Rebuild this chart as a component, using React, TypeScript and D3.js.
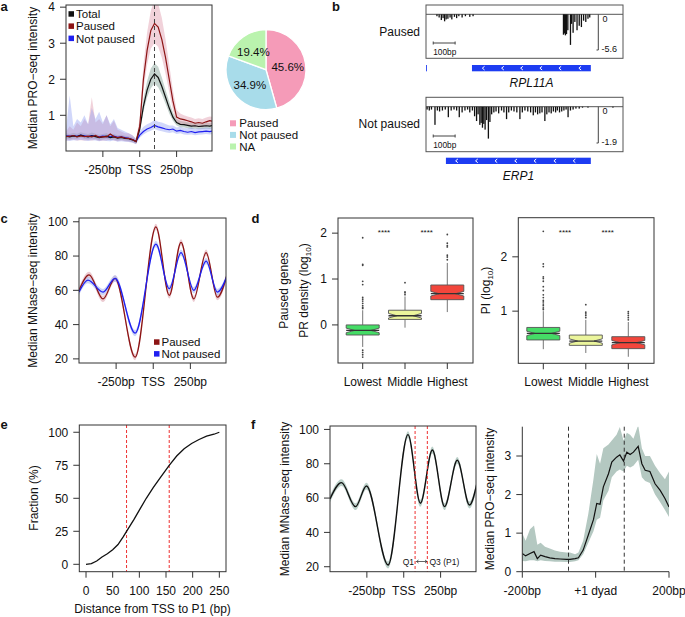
import React from "react";
import * as d3 from "d3";

const FONT = "'Liberation Sans', Arial, Helvetica, sans-serif";
const AX = "#333";
const TXT = "#111";

// ---------------- panel a ----------------
const aPos = [-500,-475,-450,-425,-400,-375,-350,-325,-300,-275,-250,-225,-200,-175,-150,-125,-100,-75,-50,-25,0,25,50,75,100,125,150,175,200,225,250,275,300,325,350,375,400,425,450,475,500];
const aTotal = [0.42,0.40,0.43,0.41,0.45,0.42,0.40,0.43,0.41,0.38,0.40,0.42,0.38,0.40,0.37,0.39,0.36,0.35,0.32,0.27,0.62,1.25,1.70,2.00,2.15,2.05,1.80,1.50,1.20,0.95,0.80,0.75,0.74,0.72,0.70,0.71,0.69,0.70,0.71,0.70,0.72];
const aTotalHi = [0.5,0.48,0.51,0.49,0.53,0.5,0.48,0.52,0.49,0.46,0.48,0.5,0.46,0.48,0.45,0.46,0.43,0.42,0.39,0.33,0.75,1.45,1.95,2.3,2.45,2.35,2.05,1.7,1.38,1.08,0.9,0.84,0.83,0.81,0.79,0.8,0.78,0.79,0.8,0.79,0.81];
const aTotalLo = [0.35,0.33,0.36,0.34,0.38,0.35,0.33,0.36,0.34,0.31,0.33,0.35,0.31,0.33,0.3,0.32,0.3,0.29,0.26,0.22,0.5,1.1,1.5,1.75,1.88,1.78,1.58,1.32,1.05,0.85,0.72,0.67,0.66,0.64,0.62,0.63,0.61,0.62,0.63,0.62,0.64];
const aPaused = [0.41,0.42,0.44,0.40,0.43,0.41,0.42,0.40,0.44,0.39,0.41,0.40,0.48,0.41,0.38,0.40,0.37,0.36,0.33,0.27,0.70,2.00,2.80,3.35,3.55,3.45,3.10,2.60,2.00,1.40,0.95,0.90,0.88,0.85,0.82,0.78,0.80,0.78,0.82,0.85,0.83];
const aPausedHi = [0.55,0.7,0.6,0.8,0.7,0.9,0.75,1.5,0.8,0.9,0.75,1.0,0.7,0.85,0.6,0.55,0.5,0.5,0.45,0.35,0.9,2.4,3.3,3.9,4.2,4.1,3.7,3.1,2.4,1.7,1.15,1.05,1.0,0.97,0.94,0.9,0.92,0.9,0.94,0.97,0.95];
const aPausedLo = [0.3,0.31,0.32,0.3,0.31,0.3,0.31,0.3,0.32,0.29,0.3,0.3,0.34,0.3,0.28,0.3,0.28,0.27,0.25,0.2,0.5,1.7,2.4,2.85,3.0,2.9,2.6,2.15,1.65,1.15,0.8,0.76,0.75,0.73,0.7,0.67,0.69,0.67,0.7,0.73,0.71];
const aNot = [0.43,0.42,0.44,0.42,0.45,0.43,0.41,0.44,0.42,0.40,0.42,0.41,0.40,0.42,0.39,0.40,0.38,0.36,0.33,0.28,0.45,0.55,0.62,0.66,0.72,0.68,0.65,0.62,0.60,0.62,0.56,0.58,0.55,0.53,0.55,0.52,0.54,0.55,0.56,0.55,0.57];
const aNotHi = [0.6,1.55,0.7,0.9,0.8,1.0,0.75,1.2,0.9,1.1,0.8,1.0,0.75,0.9,0.65,0.6,0.55,0.5,0.45,0.35,0.55,0.68,0.75,0.8,0.87,0.82,0.8,0.76,0.72,0.72,0.66,0.68,0.65,0.64,0.66,0.63,0.64,0.65,0.66,0.65,0.67];
const aNotLo = [0.3,0.29,0.31,0.3,0.32,0.3,0.29,0.31,0.3,0.28,0.3,0.29,0.28,0.3,0.27,0.28,0.27,0.26,0.24,0.2,0.38,0.47,0.53,0.57,0.62,0.58,0.56,0.53,0.51,0.53,0.48,0.5,0.47,0.46,0.47,0.45,0.46,0.47,0.48,0.47,0.49];
const aYTicks = [1, 2, 3, 4];
const tssTicks = [-250, 0, 250];
const tssLabels = ["-250bp", "TSS", "250bp"];
const aSeries = ["Total", "Paused", "Not paused"];
const aDashed = 100;

// pie
const pieLabels = ["Paused", "Not paused", "NA"];
const pieValues = [45.6, 34.9, 19.4];
const pieColors = ["#f59bb8", "#a8dcea", "#baf3ae"];

// ---------------- panel b ----------------
const bPausedPos = [50,60,70,78,85,92,100,110,118,130,140,150,165,180,200,215,628,632,637,642,648,660,665,672,680,690,700,710,720,730,740,748];
const bPausedVal = [-0.3,-0.5,-0.9,-0.6,-1.1,-0.8,-0.7,-0.5,-0.8,-0.4,-0.6,-0.3,-0.5,-0.3,-0.4,-0.3,-3.2,-3.0,-3.3,-3.1,-2.5,-4.8,-1.5,-2.9,-1.2,-2.5,-1.8,-2.0,-1.0,-1.2,-0.7,-0.5];
const bNotPos = [5,15,25,41,52,62,75,88,102,115,128,140,152,165,178,190,200,212,222,231,238,246,252,258,264,270,277,285,292,300,310,320,332,345,356,368,378,390,402,415,429,440,452,465,478,490,500,510,520,530,543,552,562,572,582,592,600,610,620,630,640,649,660,672,685,700,715,740,854];
const bNotVal = [-0.15,-0.2,-0.15,-0.95,-0.2,-0.25,-0.2,-0.15,-0.55,-0.2,-0.15,-0.2,-0.55,-0.3,-0.2,-0.15,-0.3,-0.2,-0.5,-0.75,-0.4,-0.95,-0.85,-1.1,-0.9,-1.2,-0.7,-1.67,-0.8,-0.4,-0.3,-0.25,-0.35,-0.2,-0.3,-0.65,-0.3,-0.2,-0.25,-0.3,-0.65,-0.3,-0.2,-0.25,-0.3,-0.45,-0.3,-0.4,-0.35,-0.3,-0.75,-0.4,-0.3,-0.35,-0.25,-0.3,-0.2,-0.3,-0.25,-0.2,-0.15,-0.55,-0.2,-0.15,-0.1,-0.1,-0.05,-0.05,-0.05];
const bPausedGene = [[0, 4], [210, 753]];
const bNotGene = [[91, 753]];
const bPausedChev = [262, 350, 437, 525, 612, 703];
const bNotChev = [140, 231, 320, 410, 498, 589, 677];
const bPausedMax = -5.6;
const bNotMax = -1.9;

// ---------------- panel c ----------------
const cPausedPos = [-500,-432,-338,-257,-122,18,108,187,273,356,432,500];
const cPausedVal = [60,69,55,67,21,97,57,88,55,82,56,70];
const cNotPos = [-500,-440,-338,-257,-122,18,108,187,273,356,432,500];
const cNotVal = [59,66,59,67,35,87,61,82,60,77,59,69];
const cYTicks = [20, 40, 60, 80, 100];

// ---------------- panel d ----------------
const dCats = ["Lowest", "Middle", "Highest"];
const dColors = ["#45dc66", "#ebf59c", "#f2463c"];
const dlQ1 = [-0.22, 0.12, 0.55];
const dlMed = [-0.12, 0.2, 0.68];
const dlQ3 = [0.0, 0.32, 0.87];
const dlLo = [-0.48, -0.06, 0.28];
const dlHi = [0.32, 0.62, 1.35];
const dlOut = [
  [0.36, 0.38, 0.42, 0.47, 0.52, 0.56, 0.6, 0.88, 0.95, 1.3, 1.32, 1.9, -0.55, -0.6, -0.65, -0.7],
  [0.66, 0.7, 0.72, 0.92],
  [1.42, 1.48, 1.52, 1.7, 1.73, 1.78, 1.97],
];
const drQ1 = [0.47, 0.37, 0.31];
const drMed = [0.59, 0.45, 0.42];
const drQ3 = [0.70, 0.56, 0.53];
const drLo = [0.30, 0.23, 0.16];
const drHi = [1.0, 0.84, 0.8];
const drOut = [
  [1.03, 1.06, 1.1, 1.13, 1.17, 1.2, 1.25, 1.3, 1.38, 1.45, 1.55, 1.6, 1.63, 1.82, 1.87, 2.47],
  [0.88, 0.92, 0.95, 0.98, 1.12],
  [0.84, 0.88, 0.92, 0.96, 0.99],
];

// ---------------- panel e ----------------
const ePos = [0,10,20,30,40,50,60,70,76,90,100,113,126,140,156,170,184,198,212,226,240,250];
const eVal = [0,0.5,2.5,5.5,8,11,15,21,25,34,41,50,58,66,75,82,87.5,91.5,94.5,97,98.5,100];
const eXTicks = [0, 50, 100, 150, 200, 250];
const eYTicks = [0, 25, 50, 75, 100];
const eQuartiles = [76, 156];

// ---------------- panel f ----------------
const fPos = [-500,-422,-327,-253,-106,29,113,194,277,363,446,500];
const fVal = [59.5,69,55,67,21,97,57,88,55,82,56,70];
const fQuartiles = [77, 160];
const frPos = [-200,-191,-179,-168,-159,-150,-138,-125,-111,-97,-79,-70,-56,-47,-34,-20,-6,3,12,21,35,44,57,66,76,85,94,103,116,126,135,148,162,176,189,200];
const frVal = [0.47,0.41,0.47,0.52,0.34,0.43,0.39,0.36,0.34,0.33,0.32,0.32,0.34,0.36,0.56,0.95,1.35,1.77,1.75,2.2,2.54,2.84,2.97,3.03,2.87,3.10,3.04,3.10,3.25,2.80,2.63,2.60,2.28,2.11,1.90,1.68];
const frHi = [1.0,0.8,1.1,1.2,0.7,0.75,0.65,0.6,0.55,0.52,0.5,0.5,0.45,0.5,0.8,1.5,2.4,3.05,2.8,3.2,3.3,3.4,3.55,3.75,3.4,3.6,3.55,3.45,3.8,3.2,3.0,3.0,2.75,2.55,2.4,2.6];
const frLo = [0.28,0.27,0.3,0.3,0.27,0.3,0.28,0.27,0.26,0.26,0.25,0.25,0.27,0.3,0.45,0.75,1.05,1.35,1.4,1.85,2.1,2.45,2.6,2.65,2.6,2.75,2.7,2.75,2.9,2.45,2.35,2.3,2.0,1.8,1.6,1.42];
const frTicks = [-200, 0, 200];
const frLabels = ["-200bp", "+1 dyad", "200bp"];
const frYTicks = [0, 1, 2, 3];
const frDashed = [-74, 78];

// ---------------- helpers ----------------
function linePath(xs, ys, sx, sy, curve = d3.curveLinear) {
  return d3.line().x((_, i) => sx(xs[i])).y((d) => sy(d)).curve(curve)(ys);
}
function areaPath(xs, lo, hi, sx, sy, curve = d3.curveLinear) {
  return d3.area().x((_, i) => sx(xs[i])).y0((_, i) => sy(lo[i])).y1((d) => sy(d)).curve(curve)(hi);
}
function bandPath(xs, ys, half, sx, sy, curve) {
  return d3.area().x((_, i) => sx(xs[i])).y0((d) => sy(d - half)).y1((d) => sy(d + half)).curve(curve)(ys);
}

function YAxis({ scale, ticks, x, labels }) {
  return (
    <g>
      {ticks.map((t, i) => (
        <g key={i}>
          <line x1={x} x2={x - 6} y1={scale(t)} y2={scale(t)} stroke={AX} />
          <text x={x - 11} y={scale(t) + 4.3} textAnchor="end" fontSize={12} fill={TXT}>
            {labels ? labels[i] : t}
          </text>
        </g>
      ))}
    </g>
  );
}
function XAxis({ scale, ticks, y, labels }) {
  return (
    <g>
      {ticks.map((t, i) => (
        <g key={i}>
          <line x1={scale(t)} x2={scale(t)} y1={y} y2={y + 6} stroke={AX} />
          <text x={scale(t)} y={y + 23} textAnchor="middle" fontSize={12} fill={TXT}>
            {labels ? labels[i] : t}
          </text>
        </g>
      ))}
    </g>
  );
}
function YTitle({ x, y, children, size = 12 }) {
  return (
    <text transform={`translate(${x},${y}) rotate(-90)`} textAnchor="middle" fontSize={size} fill={TXT}>
      {children}
    </text>
  );
}
function PanelLabel({ x, y, t }) {
  return (
    <text x={x} y={y} fontSize={13} fontWeight="bold" fill={TXT}>
      {t}
    </text>
  );
}

function BoxPlots({ sx, sy, q1, med, q3, lo, hi, out, notch }) {
  const w = 33;
  return (
    <g>
      {dCats.map((c, i) => {
        const cx = sx(c);
        const L = cx - w / 2, R = cx + w / 2, nl = cx - w / 4, nr = cx + w / 4;
        const pts = [
          [L, sy(q1[i])], [L, sy(med[i] - notch)], [nl, sy(med[i])], [L, sy(med[i] + notch)], [L, sy(q3[i])],
          [R, sy(q3[i])], [R, sy(med[i] + notch)], [nr, sy(med[i])], [R, sy(med[i] - notch)], [R, sy(q1[i])],
        ];
        return (
          <g key={c}>
            <line x1={cx} x2={cx} y1={sy(q3[i])} y2={sy(hi[i])} stroke="#666" strokeWidth={0.9} />
            <line x1={cx} x2={cx} y1={sy(q1[i])} y2={sy(lo[i])} stroke="#666" strokeWidth={0.9} />
            <polygon points={pts.map((p) => p.join(",")).join(" ")} fill={dColors[i]} stroke="#555" strokeWidth={0.9} />
            <line x1={L} x2={R} y1={sy(med[i])} y2={sy(med[i])} stroke="#333" strokeWidth={1.3} />
            {out[i].map((o, j) => (
              <circle key={j} cx={cx} cy={sy(o)} r={0.9} fill="#444" />
            ))}
          </g>
        );
      })}
    </g>
  );
}

export default function App() {
  // ---- a
  const aX = d3.scaleLinear().domain([-500, 490]).range([66, 212]);
  const aY = d3.scaleLinear().domain([0.01, 4.06]).range([151, 5]);
  const pie = d3.pie().sort(null)(pieValues);
  const arc = d3.arc().innerRadius(0).outerRadius(40);
  const lblArc = d3.arc().innerRadius(22).outerRadius(22);

  // ---- b
  const bX = d3.scaleLinear().domain([0, 900]).range([426, 623]);
  const bPY = d3.scaleLinear().domain([0, bPausedMax]).range([14.3, 50]);
  const bNY = d3.scaleLinear().domain([0, bNotMax]).range([106.7, 143]);

  // ---- c
  const cX = d3.scaleLinear().domain([-500, 490]).range([79, 226]);
  const cY = d3.scaleLinear().domain([17.6, 102.2]).range([363, 218]);

  // ---- d
  const dlX = d3.scalePoint().domain(dCats).range([362.7, 447.3]);
  const dlY = d3.scaleLinear().domain([-0.83, 2.33]).range([363, 218]);
  const drX = d3.scalePoint().domain(dCats).range([543.3, 628.3]);
  const drY = d3.scaleLinear().domain([0.04, 2.72]).range([363.3, 217.7]);

  // ---- e
  const eX = d3.scaleLinear().domain([-12.6, 262.5]).range([79.3, 226]);
  const eY = d3.scaleLinear().domain([-5.6, 105.5]).range([571.7, 425]);

  // ---- f
  const fX = d3.scaleLinear().domain([-500, 490]).range([330, 476]);
  const fY = d3.scaleLinear().domain([17.1, 102]).range([571.7, 426]);
  const frX = d3.scaleLinear().domain([-200, 200]).range([522.3, 669]);
  const frY = d3.scaleLinear().domain([0, 3.76]).range([571.7, 426.7]);

  const track = (pos, val, sy) =>
    pos.map((p, i) => (
      <rect key={i} x={bX(p) - 0.65} width={1.3} y={sy(0)} height={sy(val[i]) - sy(0)} fill="#111" />
    ));
  const gene = (blocks, chev, y) => (
    <g>
      {blocks.map((b, i) => (
        <rect key={i} x={bX(b[0])} width={bX(b[1]) - bX(b[0])} y={y} height={6.3} fill="#1d3cf2" />
      ))}
      {chev.map((c, i) => (
        <polyline key={"c" + i} points={`${bX(c) + 1.2},${y + 1.3} ${bX(c) - 1},${y + 3.15} ${bX(c) + 1.2},${y + 5}`} fill="none" stroke="#fff" strokeWidth={1} />
      ))}
    </g>
  );
  const scaleBar = (y0, y1, top, label) => (
    <g>
      <line x1={598.3} x2={598.3} y1={y0} y2={y1} stroke="#444" />
      <line x1={596.5} x2={598.3} y1={y1} y2={y1} stroke="#444" />
      <text x={602.5} y={y0 + 7.3} fontSize={9} fill={TXT}>0</text>
      <text x={601.5} y={y1 + 1.5} fontSize={9} fill={TXT}>{label}</text>
      <line x1={bX(33)} x2={bX(133)} y1={top} y2={top} stroke="#444" />
      <line x1={bX(33)} x2={bX(33)} y1={top - 1.5} y2={top + 1.5} stroke="#444" />
      <line x1={bX(133)} x2={bX(133)} y1={top - 1.5} y2={top + 1.5} stroke="#444" />
      <text x={bX(33)} y={top + 11.5} fontSize={8.3} fill={TXT}>100bp</text>
    </g>
  );

  return (
    <svg width={685} height={617} style={{ position: "absolute", left: 0, top: 0 }} fontFamily={FONT}>
      <defs>
        <clipPath id="clipA"><rect x={66} y={5} width={146} height={146} /></clipPath>
        <clipPath id="clipC"><rect x={79} y={218} width={147} height={145} /></clipPath>
        <clipPath id="clipF"><rect x={330} y={426} width={146} height={145.7} /></clipPath>
        <clipPath id="clipFR"><rect x={522.3} y={426.7} width={146.7} height={145} /></clipPath>
      </defs>
      <rect width={685} height={617} fill="#fff" />

      {/* ---------------- a ---------------- */}
      <PanelLabel x={0.5} y={11} t="a" />
      <g clipPath="url(#clipA)">
        <path d={areaPath(aPos, aTotalLo, aTotalHi, aX, aY)} fill="#7f9d92" opacity={0.45} />
        <path d={areaPath(aPos, aPausedLo, aPausedHi, aX, aY)} fill="#dc8ea3" opacity={0.4} />
        <path d={areaPath(aPos, aNotLo, aNotHi, aX, aY)} fill="#8d9cf2" opacity={0.4} />
        <path d={linePath(aPos, aNot, aX, aY)} fill="none" stroke="#1f1ff0" strokeWidth={1.2} />
        <path d={linePath(aPos, aTotal, aX, aY)} fill="none" stroke="#111" strokeWidth={1.2} />
        <path d={linePath(aPos, aPaused, aX, aY)} fill="none" stroke="#8c1414" strokeWidth={1.2} />
      </g>
      <line x1={aX(aDashed)} x2={aX(aDashed)} y1={5} y2={151} stroke="#444" strokeDasharray="4,3" />
      <rect x={66} y={5} width={146} height={146} fill="none" stroke={AX} />
      <YAxis scale={aY} ticks={aYTicks} x={66} />
      <XAxis scale={aX} ticks={tssTicks} y={151} labels={tssLabels} />
      <YTitle x={37} y={78}>Median PRO−seq intensity</YTitle>
      {aSeries.map((s, i) => (
        <g key={s}>
          <rect x={68.5} y={11.2 + i * 12.2} width={5.5} height={5.5} fill={["#111", "#8c1414", "#1f1ff0"][i]} />
          <text x={76} y={18.1 + i * 12.2} fontSize={11.5} fill={TXT}>{s}</text>
        </g>
      ))}

      {/* pie */}
      <g transform="translate(266,69.7)">
        {pie.map((p, i) => (
          <path key={i} d={arc(p)} fill={pieColors[i]} stroke="#fff" strokeWidth={1.3} />
        ))}
        {pie.map((p, i) => {
          const [x, y] = lblArc.centroid(p);
          return (
            <text key={"t" + i} x={x} y={y + 4} textAnchor="middle" fontSize={11.5} fill={TXT}>
              {pieValues[i].toFixed(1)}%
            </text>
          );
        })}
      </g>
      {pieLabels.map((s, i) => (
        <g key={s}>
          <rect x={230} y={120.3 + i * 11.6} width={6} height={6} fill={pieColors[i]} />
          <text x={239.3} y={127.3 + i * 11.6} fontSize={11.5} fill={TXT}>{s}</text>
        </g>
      ))}

      {/* ---------------- b ---------------- */}
      <PanelLabel x={332} y={11} t="b" />
      <text x={420} y={36} textAnchor="end" fontSize={12} fill={TXT}>Paused</text>
      <rect x={426} y={5} width={197} height={53.3} fill="none" stroke="#555" />
      <line x1={426} x2={623} y1={14.3} y2={14.3} stroke="#555" />
      {track(bPausedPos, bPausedVal, bPY)}
      {scaleBar(14.3, 50, 43, bPausedMax.toString())}
      {gene(bPausedGene, bPausedChev, 65)}
      <text x={531.5} y={87.3} textAnchor="middle" fontSize={12} fontStyle="italic" fill={TXT}>RPL11A</text>

      <text x={420} y={128.3} textAnchor="end" fontSize={12} fill={TXT}>Not paused</text>
      <rect x={426} y={97.3} width={197} height={54.4} fill="none" stroke="#555" />
      <line x1={426} x2={623} y1={106.7} y2={106.7} stroke="#555" />
      {track(bNotPos, bNotVal, bNY)}
      {scaleBar(106.7, 143, 136, bNotMax.toString())}
      {gene(bNotGene, bNotChev, 157.7)}
      <text x={518.5} y={180} textAnchor="middle" fontSize={12} fontStyle="italic" fill={TXT}>ERP1</text>

      {/* ---------------- c ---------------- */}
      <PanelLabel x={0.5} y={222.7} t="c" />
      <g clipPath="url(#clipC)">
        <path d={bandPath(cPausedPos, cPausedVal, 1.8, cX, cY, d3.curveMonotoneX)} fill="#e0a8b2" opacity={0.6} />
        <path d={bandPath(cNotPos, cNotVal, 1.8, cX, cY, d3.curveMonotoneX)} fill="#a9b5f2" opacity={0.6} />
        <path d={linePath(cPausedPos, cPausedVal, cX, cY, d3.curveMonotoneX)} fill="none" stroke="#8c1414" strokeWidth={1.3} />
        <path d={linePath(cNotPos, cNotVal, cX, cY, d3.curveMonotoneX)} fill="none" stroke="#1f1ff0" strokeWidth={1.3} />
      </g>
      <rect x={79} y={218} width={147} height={145} fill="none" stroke={AX} />
      <YAxis scale={cY} ticks={cYTicks} x={79} />
      <XAxis scale={cX} ticks={tssTicks} y={363} labels={tssLabels} />
      <YTitle x={37} y={290.5}>Median MNase−seq intensity</YTitle>
      {["Paused", "Not paused"].map((s, i) => (
        <g key={s}>
          <rect x={154} y={339.3 + i * 11.8} width={5.5} height={5.5} fill={["#8c1414", "#1f1ff0"][i]} />
          <text x={161.5} y={346.2 + i * 11.8} fontSize={11.5} fill={TXT}>{s}</text>
        </g>
      ))}

      {/* ---------------- d ---------------- */}
      <PanelLabel x={251.5} y={223.3} t="d" />
      <BoxPlots sx={dlX} sy={dlY} q1={dlQ1} med={dlMed} q3={dlQ3} lo={dlLo} hi={dlHi} out={dlOut} notch={0.05} />
      <rect x={338} y={218} width={135} height={145} fill="none" stroke={AX} />
      <YAxis scale={dlY} ticks={[0, 1, 2]} x={338} />
      <XAxis scale={dlX} ticks={dCats} y={363} />
      <text x={384} y={234.5} textAnchor="middle" fontSize={8} fill={TXT}>****</text>
      <text x={426.7} y={234.5} textAnchor="middle" fontSize={8} fill={TXT}>****</text>
      <YTitle x={288} y={290.5}>Paused genes</YTitle>
      <YTitle x={308} y={290.5}>
        PR density (log<tspan dy={3} fontSize={8}>10</tspan><tspan dy={-3}>)</tspan>
      </YTitle>

      <BoxPlots sx={drX} sy={drY} q1={drQ1} med={drMed} q3={drQ3} lo={drLo} hi={drHi} out={drOut} notch={0.04} />
      <rect x={518.3} y={217.7} width={135.7} height={145.6} fill="none" stroke={AX} />
      <YAxis scale={drY} ticks={[1, 2]} x={518.3} />
      <XAxis scale={drX} ticks={dCats} y={363.3} />
      <text x={565} y={234.5} textAnchor="middle" fontSize={8} fill={TXT}>****</text>
      <text x={607.7} y={234.5} textAnchor="middle" fontSize={8} fill={TXT}>****</text>
      <YTitle x={490} y={290.5}>
        PI (log<tspan dy={3} fontSize={8}>10</tspan><tspan dy={-3}>)</tspan>
      </YTitle>

      {/* ---------------- e ---------------- */}
      <PanelLabel x={0.5} y={429} t="e" />
      {eQuartiles.map((q, i) => (
        <line key={i} x1={eX(q)} x2={eX(q)} y1={425} y2={571.7} stroke="#ee3030" strokeDasharray="3,2" />
      ))}
      <path d={linePath(ePos, eVal, eX, eY)} fill="none" stroke="#111" strokeWidth={1.3} />
      <rect x={79.3} y={425} width={146.7} height={146.7} fill="none" stroke={AX} />
      <YAxis scale={eY} ticks={eYTicks} x={79.3} />
      <XAxis scale={eX} ticks={eXTicks} y={571.7} />
      <YTitle x={38} y={498}>Fraction (%)</YTitle>
      <text x={152.6} y={613} textAnchor="middle" fontSize={12} fill={TXT}>Distance from TSS to P1 (bp)</text>

      {/* ---------------- f ---------------- */}
      <PanelLabel x={251} y={429} t="f" />
      <g clipPath="url(#clipF)">
        <path d={bandPath(fPos, fVal, 2, fX, fY, d3.curveMonotoneX)} fill="#9fbdb4" opacity={0.7} />
        <path d={linePath(fPos, fVal, fX, fY, d3.curveMonotoneX)} fill="none" stroke="#111" strokeWidth={1.4} />
      </g>
      {fQuartiles.map((q, i) => (
        <line key={i} x1={fX(q)} x2={fX(q)} y1={426} y2={571.7} stroke="#ee3030" strokeDasharray="3,2" />
      ))}
      <text x={414} y={564.5} textAnchor="end" fontSize={8.5} fill={TXT}>Q1</text>
      <text x={429.5} y={564.5} fontSize={8.5} fill={TXT}>Q3 (P1)</text>
      <line x1={416.5} x2={427} y1={561.5} y2={561.5} stroke="#222" strokeWidth={0.7} />
      <polyline points="418.5,560 416.5,561.5 418.5,563" fill="none" stroke="#222" strokeWidth={0.7} />
      <polyline points="425,560 427,561.5 425,563" fill="none" stroke="#222" strokeWidth={0.7} />
      <rect x={330} y={426} width={146} height={145.7} fill="none" stroke={AX} />
      <YAxis scale={fY} ticks={cYTicks} x={330} />
      <XAxis scale={fX} ticks={tssTicks} y={571.7} labels={tssLabels} />
      <YTitle x={289} y={499}>Median MNase−seq intensity</YTitle>

      <g clipPath="url(#clipFR)">
        <path d={areaPath(frPos, frLo, frHi, frX, frY)} fill="#b4c8c1" />
        <path d={linePath(frPos, frVal, frX, frY)} fill="none" stroke="#111" strokeWidth={1.2} />
      </g>
      {frDashed.map((q, i) => (
        <line key={i} x1={frX(q)} x2={frX(q)} y1={426.7} y2={571.7} stroke="#333" strokeDasharray="4,3" />
      ))}
      <line x1={522.3} x2={522.3} y1={426.7} y2={571.7} stroke={AX} />
      <line x1={522.3} x2={669} y1={571.7} y2={571.7} stroke={AX} />
      <YAxis scale={frY} ticks={frYTicks} x={522.3} />
      <XAxis scale={frX} ticks={frTicks} y={571.7} labels={frLabels} />
      <YTitle x={494} y={499}>Median PRO−seq intensity</YTitle>
    </svg>
  );
}
